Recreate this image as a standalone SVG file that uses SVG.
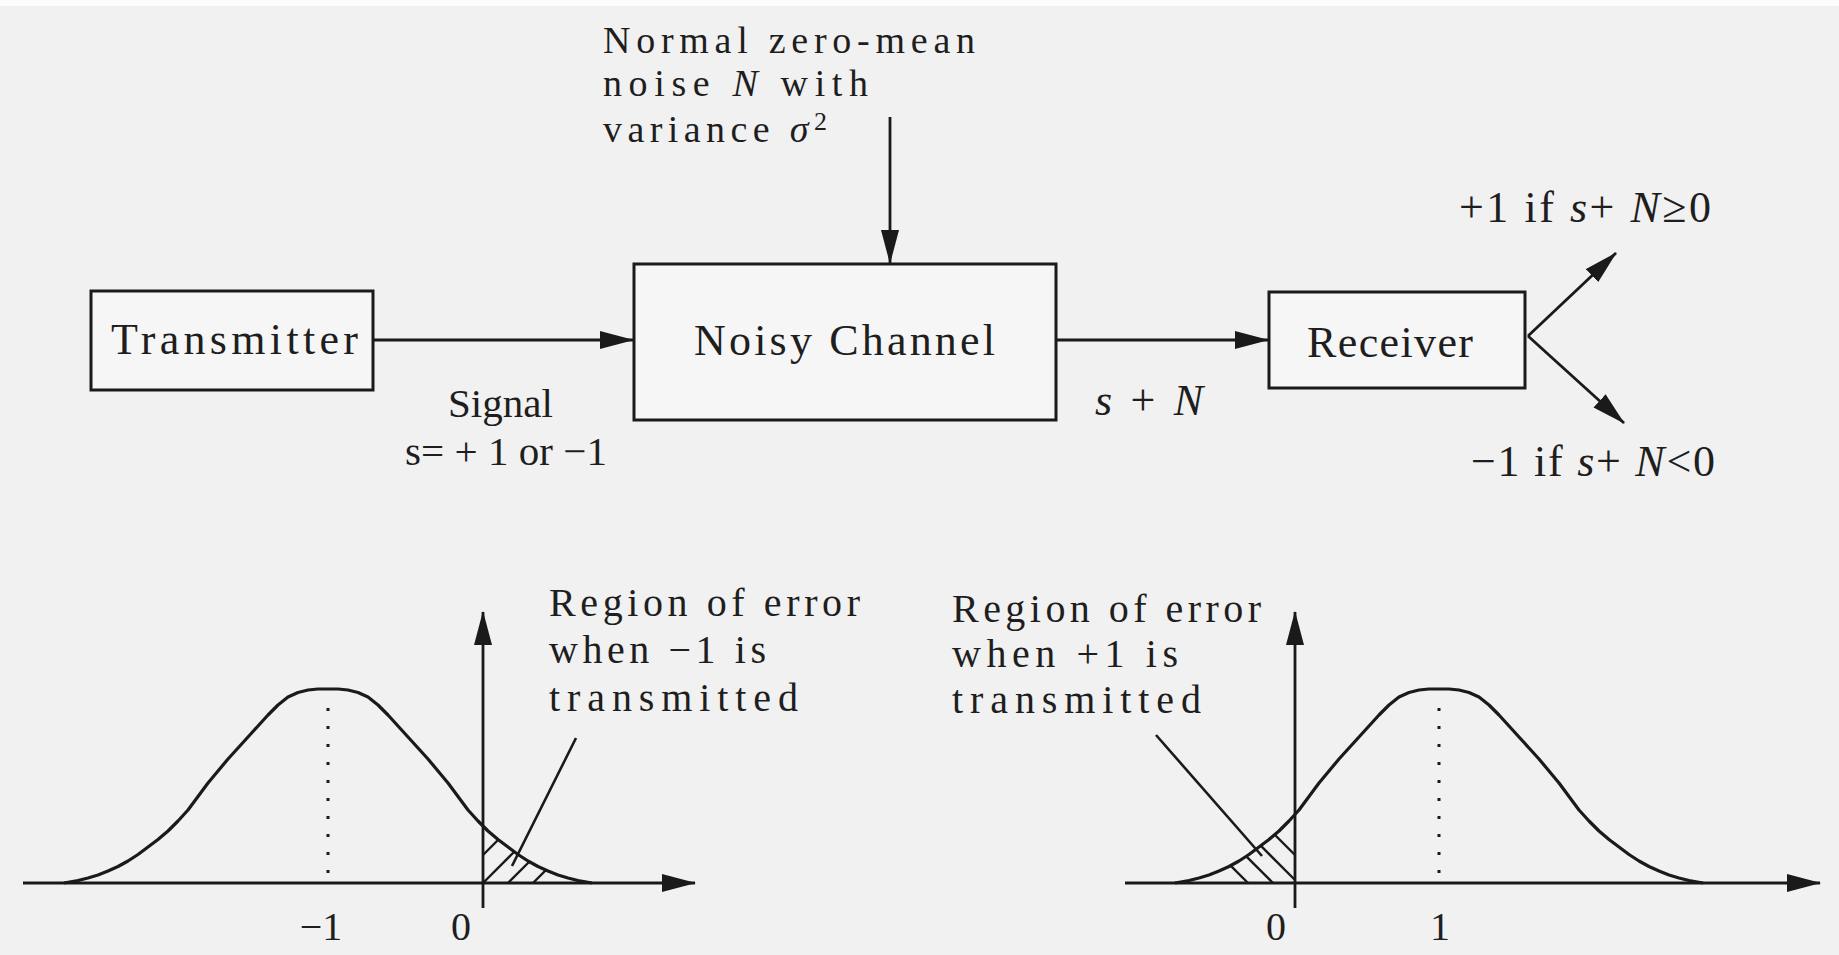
<svg xmlns="http://www.w3.org/2000/svg" width="1839" height="955" viewBox="0 0 1839 955">
<style>
  .t { font-family: "Liberation Serif", "DejaVu Serif", serif; font-size: 44px; fill: #1e1e1e; }
  .n { font-size: 38px; }
  .r { font-size: 40px; }
  .s { font-size: 41px; }
  .k { font-size: 40px; }
  .i { font-style: italic; }
  .box { fill: #f6f6f6; stroke: #1a1a1a; stroke-width: 3; }
  .ln { fill: none; stroke: #1a1a1a; stroke-width: 2.6; }
  .arr { fill: none; stroke: #1a1a1a; stroke-width: 2.8; marker-end: url(#ah); }
  .curve { fill: none; stroke: #1a1a1a; stroke-width: 3.2; stroke-linejoin: round; }
  .hatch { fill: none; stroke: #1a1a1a; stroke-width: 2.4; }
  .dot { fill: none; stroke: #1a1a1a; stroke-width: 3; stroke-dasharray: 3 15; }
</style>
<defs>
  <marker id="ah" markerUnits="userSpaceOnUse" viewBox="0 0 34 18" markerWidth="34" markerHeight="18" refX="33" refY="9" orient="auto">
    <path d="M0,0 L34,9 L0,18 z" fill="#1a1a1a"/>
  </marker>
</defs>
<rect x="0" y="0" width="1839" height="955" fill="#f1f1f1"/>
<rect x="0" y="0" width="1839" height="6" fill="#fdfdfd"/>

<g id="noise-label">
  <text class="t n" x="603" y="53" textLength="372" lengthAdjust="spacing">Normal zero-mean</text>
  <text class="t n" x="603" y="96" textLength="265" lengthAdjust="spacing">noise <tspan class="i">N</tspan> with</text>
  <text class="t n" x="603" y="142" textLength="224" lengthAdjust="spacing">variance <tspan class="i">σ</tspan><tspan dy="-12" font-size="26">2</tspan></text>
</g>

<g id="transmitter">
  <rect class="box" x="91" y="291" width="282" height="99"/>
  <text class="t" x="111" y="354" textLength="247" lengthAdjust="spacing">Transmitter</text>
</g>

<g id="channel">
  <rect class="box" x="634" y="264" width="422" height="156"/>
  <text class="t" x="694" y="355" textLength="301" lengthAdjust="spacing">Noisy Channel</text>
</g>

<g id="receiver">
  <rect class="box" x="1269" y="292" width="256" height="96"/>
  <text class="t" x="1307" y="357" textLength="166" lengthAdjust="spacing">Receiver</text>
</g>

<g id="signal-label">
  <text class="t s" x="448" y="417" textLength="105" lengthAdjust="spacing">Signal</text>
  <text class="t s" x="405" y="465" textLength="202" lengthAdjust="spacing">s= + 1 or −1</text>
</g>

<g id="sn-label">
  <text class="t" x="1095" y="415" textLength="108" lengthAdjust="spacing"><tspan class="i">s</tspan> + <tspan class="i">N</tspan></text>
</g>

<g id="decision-labels">
  <text class="t" x="1459" y="222" textLength="252" lengthAdjust="spacing">+1 if <tspan class="i">s</tspan>+ <tspan class="i">N</tspan>≥0</text>
  <text class="t" x="1471" y="476" textLength="244" lengthAdjust="spacing">−1 if <tspan class="i">s</tspan>+ <tspan class="i">N</tspan>&lt;0</text>
</g>

<g id="connectors">
  <line class="arr" x1="890" y1="117" x2="890" y2="263"/>
  <line class="arr" x1="373" y1="340" x2="633" y2="340"/>
  <line class="arr" x1="1056" y1="340" x2="1268" y2="340"/>
  <line class="arr" x1="1528" y1="336" x2="1616" y2="253"/>
  <line class="arr" x1="1528" y1="336" x2="1624" y2="423"/>
</g>

<g id="plot-left">
  <line class="arr" x1="23" y1="883" x2="695" y2="883"/>
  <line class="arr" x1="483" y1="908" x2="483" y2="612"/>
  <polyline class="curve" points="64,883 78,880.5 88,878 98,875 108,871 118,866.5 128,861 138,854.5 148,847 158,839.5 168,831 178,821 188,810 198,796.5 208,783 218,771 228,759 238,748 248,737 258,726 268,715 278,705 288,697 298,692.5 308,690 318,689 328,689 338,689 348,690 358,692.5 368,697 378,705 388,715 398,726 408,737 418,748 428,759 438,771 448,783 458,796.5 468,810 478,821 488,831 498,839.5 508,847 518,854.5 528,861 538,866.5 548,871 558,875 568,878 578,880.5 592,883"/>
  <line class="dot" x1="328" y1="708" x2="328" y2="880"/>
  <line class="hatch" x1="483" y1="855" x2="498" y2="840"/>
  <line class="hatch" x1="483" y1="883" x2="514" y2="852"/>
  <line class="hatch" x1="508" y1="883" x2="529" y2="862"/>
  <line class="hatch" x1="533" y1="883" x2="546" y2="870"/>
  <line class="ln" x1="576" y1="738" x2="512" y2="866"/>
  <text class="t r" x="549" y="616" textLength="311" lengthAdjust="spacing">Region of error</text>
  <text class="t r" x="549" y="663" textLength="217" lengthAdjust="spacing">when −1 is</text>
  <text class="t r" x="549" y="711" textLength="249" lengthAdjust="spacing">transmitted</text>
  <text class="t k" x="321" y="940" text-anchor="middle">−1</text>
  <text class="t k" x="461" y="940" text-anchor="middle">0</text>
</g>

<g id="plot-right">
  <line class="arr" x1="1125" y1="883" x2="1820" y2="883"/>
  <line class="arr" x1="1295" y1="908" x2="1295" y2="612"/>
  <polyline class="curve" points="1175,883 1189,880.5 1199,878 1209,875 1219,871 1229,866.5 1239,861 1249,854.5 1259,847 1269,839.5 1279,831 1289,821 1299,810 1309,796.5 1319,783 1329,771 1339,759 1349,748 1359,737 1369,726 1379,715 1389,705 1399,697 1409,692.5 1419,690 1429,689 1439,689 1449,689 1459,690 1469,692.5 1479,697 1489,705 1499,715 1509,726 1519,737 1529,748 1539,759 1549,771 1559,783 1569,796.5 1579,810 1589,821 1599,831 1609,839.5 1619,847 1629,854.5 1639,861 1649,866.5 1659,871 1669,875 1679,878 1689,880.5 1703,883"/>
  <line class="dot" x1="1439" y1="708" x2="1439" y2="880"/>
  <line class="hatch" x1="1274.5" y1="834.5" x2="1295" y2="855"/>
  <line class="hatch" x1="1260.7" y1="845.7" x2="1295" y2="880"/>
  <line class="hatch" x1="1246.3" y1="856.3" x2="1273" y2="883"/>
  <line class="hatch" x1="1230.6" y1="865.6" x2="1248" y2="883"/>
  <line class="ln" x1="1156" y1="735" x2="1262" y2="856"/>
  <text class="t r" x="952" y="622" textLength="309" lengthAdjust="spacing">Region of error</text>
  <text class="t r" x="952" y="667" textLength="226" lengthAdjust="spacing">when +1 is</text>
  <text class="t r" x="952" y="713" textLength="249" lengthAdjust="spacing">transmitted</text>
  <text class="t k" x="1276" y="940" text-anchor="middle">0</text>
  <text class="t k" x="1440" y="940" text-anchor="middle">1</text>
</g>
</svg>
